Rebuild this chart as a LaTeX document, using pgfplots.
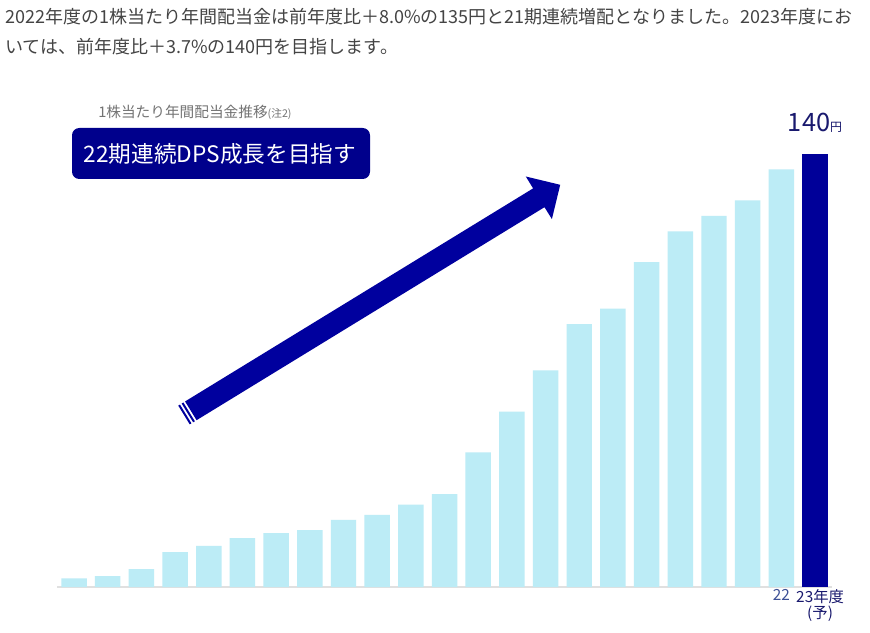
\documentclass[border=0pt]{standalone}
\usepackage{pgfplots}
\pgfplotsset{compat=1.18}
\usepackage{fontspec}
\setmainfont{Noto Sans CJK JP}

\definecolor{lightbar}{RGB}{188,236,246}
\definecolor{navybar}{RGB}{0,0,153}
\definecolor{boxnavy}{RGB}{0,0,140}
\definecolor{arrownavy}{RGB}{0,0,158}
\definecolor{txtgray}{RGB}{68,68,68}
\definecolor{subgray}{RGB}{115,115,115}
\definecolor{tickblue}{RGB}{60,80,150}
\definecolor{labnavy}{RGB}{25,25,110}

% dividend per share, FY2001 .. FY2022, FY2023 forecast
\pgfplotstableread{
x y
0 2.8
1 3.5
2 5.8
3 11.3
4 13.3
5 15.8
6 17.4
7 18.4
8 21.7
9 23.3
10 26.6
11 30
12 43.5
13 56.7
14 70
15 85
16 90
17 105
18 115
19 120
20 125
21 135
}\actual
\pgfplotstableread{
x y
22 140
}\forecast

\begin{document}
\begin{tikzpicture}
\fill[white] (0,0) rectangle (652.5pt,474pt);
\path[use as bounding box] (0,0) rectangle (652.5pt,474pt);

\begin{axis}[
  at={(42.9pt,33.75pt)}, anchor=south west,
  scale only axis, width=581pt, height=324.75pt,
  xmin=-0.5, xmax=22.5, ymin=0, ymax=140,
  axis y line=none, axis x line=bottom,
  x axis line style={draw=black!12, line width=1pt, -},
  ytick=\empty,
  xtick={21,22.15}, major tick length=0pt,
  xticklabels={\textcolor{tickblue}{22}, 23年度\\(予)},
  xticklabel style={font=\fontsize{11.5pt}{12pt}\selectfont, text=labnavy,
    align=center, anchor=north, inner sep=0pt, yshift=-1.5pt},
  ybar, bar width=19.1pt, bar shift=0pt,
  clip=false,
]
\addplot[draw=none, fill=lightbar] table[x=x,y=y] {\actual};
\addplot[draw=none, fill=navybar] table[x=x,y=y] {\forecast};
\node[anchor=base, text=labnavy, inner sep=0pt, yshift=16.5pt]
  at (axis cs:22,140) {\fontsize{19pt}{21pt}\selectfont 140\fontsize{9pt}{10pt}\selectfont 円};
\end{axis}

\begin{scope}[x=0.75pt, y=-0.75pt, yshift=474pt]
% heading text
\node[anchor=west, inner sep=0pt, text=txtgray, font=\fontsize{13.5pt}{16pt}\selectfont]
  at (5,17) {2022年度の1株当たり年間配当金は前年度比＋8.0\%の135円と21期連続増配となりました。2023年度にお};
\node[anchor=west, inner sep=0pt, text=txtgray, font=\fontsize{13.5pt}{16pt}\selectfont]
  at (5,47) {いては、前年度比＋3.7\%の140円を目指します。};
% chart title
\node[anchor=west, inner sep=0pt, text=subgray]
  at (98,112) {\fontsize{11pt}{13pt}\selectfont 1株当たり年間配当金推移\fontsize{8pt}{9pt}\selectfont (注2)};
\fill[boxnavy, rounded corners=5.5pt] (72,128) rectangle (370,179);
\node[text=white, inner sep=0pt, font=\fontsize{17pt}{19pt}\selectfont]
  at (220,153.5) {22期連続DPS成長を目指す};
% growth arrow
\fill[arrownavy] (185.08,401.44) -- (533.1,188.4) -- (525.8,176.5) -- (560.2,184.8)
  -- (551.9,219.1) -- (544.5,207.2) -- (196.56,420.2) -- cycle;
\fill[arrownavy] (178.26,405.62) -- (179.97,404.58) -- (191.45,423.34) -- (189.74,424.38) -- cycle;
\fill[arrownavy] (181.67,403.53) -- (183.38,402.49) -- (194.86,421.25) -- (193.15,422.29) -- cycle;
\end{scope}
\end{tikzpicture}
\end{document}
